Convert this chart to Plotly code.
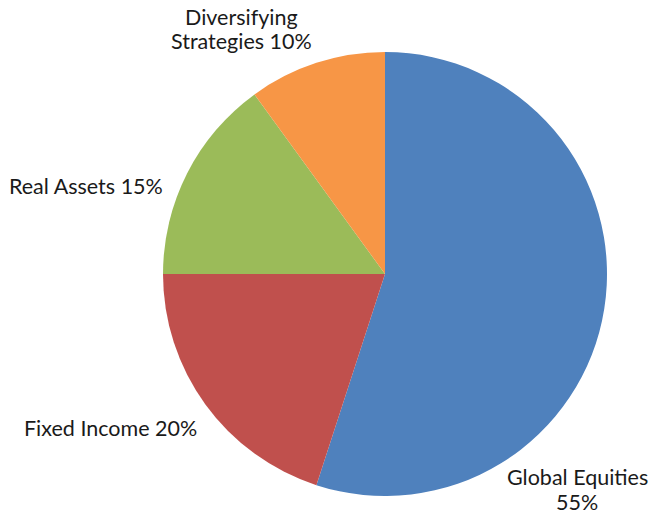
import plotly.graph_objects as go

labels = ["Global Equities", "Fixed Income", "Real Assets", "Diversifying Strategies"]
values = [55, 20, 15, 10]
colors = ["#4F81BD", "#C0504D", "#9BBB59", "#F79646"]
label_lines = [["Global Equities", "55%"], ["Fixed Income 20%"], ["Real Assets 15%"], ["Diversifying", "Strategies 10%"]]
# label block centre positions in pixels (x, y from top)
label_pos = [(577, 489), (110, 428), (86, 186), (242, 29)]
LINE_GAP = 25

W, H = 650, 515
cx, cy, r = 385, 274, 222

fig = go.Figure(go.Pie(
    labels=labels,
    values=values,
    sort=False,
    direction="clockwise",
    rotation=0,
    textinfo="none",
    hoverinfo="label+percent",
    marker=dict(colors=colors, line=dict(width=0)),
    domain=dict(x=[(cx - r) / W, (cx + r) / W], y=[1 - (cy + r) / H, 1 - (cy - r) / H]),
    showlegend=False,
))

for lines, (px, py) in zip(label_lines, label_pos):
    n = len(lines)
    for i, line in enumerate(lines):
        ly = py + (i - (n - 1) / 2) * LINE_GAP
        fig.add_annotation(
            x=px / W, y=1 - ly / H, xref="paper", yref="paper",
            text=line, showarrow=False, xanchor="center", yanchor="middle",
            align="center", font=dict(family="Lato", size=21.5, color="#1a1a1a"),
        )

fig.update_layout(
    width=W, height=H,
    margin=dict(l=0, r=0, t=0, b=0),
    paper_bgcolor="white", plot_bgcolor="white",
)

fig.write_html("out.html", config={"displayModeBar": False},
               post_script="document.body.style.margin='0';")
